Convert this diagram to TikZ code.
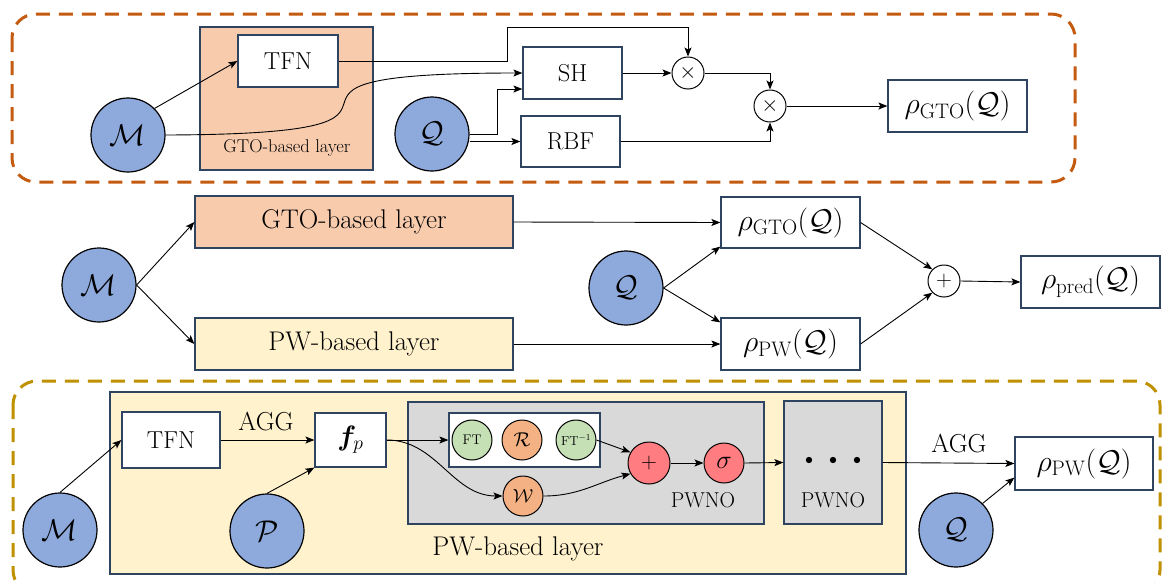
\RequirePackage{fix-cm}
\documentclass[tikz,border=0pt]{standalone}
\usepackage{bm}
\usetikzlibrary{arrows.meta,calc}
\definecolor{bordc}{HTML}{2F4460}
\definecolor{inblue}{HTML}{8EA9DB}
\definecolor{gtofill}{HTML}{F8CBAD}
\definecolor{pwfill}{HTML}{FFF2CC}
\definecolor{greyfill}{HTML}{D9D9D9}
\definecolor{greenc}{HTML}{C5E0B4}
\definecolor{orangec}{HTML}{F4B183}
\definecolor{redc}{HTML}{FF7C80}
\definecolor{topdash}{HTML}{C55A11}
\definecolor{botdash}{HTML}{BF9000}
\newcommand\myfs[1]{\fontsize{#1}{#1}\selectfont}
\tikzset{
  box/.style={draw=bordc, line width=1.2pt, fill=white, inner sep=0pt, font=\myfs{24.5}},
  panel/.style={draw=bordc, line width=1.2pt, inner sep=0pt},
  incirc/.style={circle, draw=black, line width=1.2pt, fill=inblue, inner sep=0pt, minimum size=74pt, font=\myfs{30}},
  opcirc/.style={circle, draw=black, line width=1pt, fill=white, inner sep=0pt, minimum size=32pt, font=\myfs{22}},
  smallcirc/.style={circle, draw=black, line width=1pt, inner sep=0pt, minimum size=40pt},
  arr/.style={-{Stealth[length=9pt,width=7pt,inset=2pt]}, line width=0.9pt},
  dashbox/.style={dash pattern=on 14pt off 9pt, line width=3pt, rounded corners=24pt},
  lbl/.style={font=\myfs{#1}},
}
\begin{document}
\begin{tikzpicture}[x=1pt,y=-1pt]
\useasboundingbox (0,0) rectangle (1165,582);

% ---------------- top panel ----------------
\draw[dashbox, draw=topdash] (12,14) rectangle (1075,182);
\node[panel, fill=gtofill, minimum width=173pt, minimum height=143pt] (gtoL) at (286.5,98.5) {};
\node[lbl=18.5] (gtoLtxt) at (287,148) {GTO-based layer};
\node[box, minimum width=100pt, minimum height=52pt] (tfn1) at (288,61) {TFN};
\node[box, minimum width=99pt, minimum height=52pt] (sh) at (572.5,73) {SH};
\node[box, minimum width=99pt, minimum height=51pt] (rbf) at (570.5,141.5) {RBF};
\node[incirc] (m1) at (128,135) {$\mathcal{M}$};
\node[incirc] (q1) at (432,134) {$\mathcal{Q}$};
\node[opcirc] (x1) at (688,73) {$\times$};
\node[opcirc] (x2) at (770,106) {$\times$};
\node[box, minimum width=139pt, minimum height=52pt, font=\myfs{30}] (rho1) at (957.5,106) {$\rho_{\mathrm{GTO}}(\mathcal{Q})$};

\coordinate (b1) at (507,61);
\coordinate (b2) at (507,27);
\coordinate (b3) at (497,134);
\draw[arr] (m1.45) -- (tfn1.west);
\draw[arr] (m1.east) .. controls (500,134) and (190,73) .. (sh.west);
\draw[arr] (tfn1.east) -- (b1) -- (b2) -| (x1.north);
\draw[arr] (q1.east) -- (b3) |- ([yshift=-16pt]sh.west);
\draw[arr] (rbf.west -| q1.east) -- (rbf.west);
\draw[arr] (sh.east) -- (x1.west);
\draw[arr] (x1.east) -| (x2.north);
\draw[arr] (rbf.east) -| (x2.south);
\draw[arr] (x2.east) -- (rho1.west);

% ---------------- middle panel ----------------
\node[incirc] (m2) at (99,285) {$\mathcal{M}$};
\node[box, fill=gtofill, minimum width=318pt, minimum height=52pt, font=\myfs{27}] (gto2) at (354,222) {GTO-based layer};
\node[box, fill=pwfill, minimum width=318pt, minimum height=52pt, font=\myfs{27}] (pw2) at (354,344) {PW-based layer};
\node[incirc] (q2) at (626,288) {$\mathcal{Q}$};
\node[box, minimum width=139pt, minimum height=51pt, font=\myfs{30}] (rho2) at (790.5,222.5) {$\rho_{\mathrm{GTO}}(\mathcal{Q})$};
\node[box, minimum width=139pt, minimum height=52pt, font=\myfs{30}] (rho3) at (790.5,344) {$\rho_{\mathrm{PW}}(\mathcal{Q})$};
\node[opcirc] (pl1) at (944,281) {$+$};
\node[box, minimum width=139pt, minimum height=52pt, font=\myfs{30}] (rhop) at (1090.5,282) {$\rho_{\mathrm{pred}}(\mathcal{Q})$};

\draw[arr] (m2.east) -- (gto2.west);
\draw[arr] (m2.east) -- (pw2.west);
\draw[arr] (gto2.east) -- (rho2.west);
\draw[arr] (pw2.east) -- (rho3.west);
\draw[arr] (q2.east) -- ([yshift=2pt]rho2.south west);
\draw[arr] (q2.east) -- ([yshift=-5pt]rho3.north west);
\draw[arr] (rho2.east) -- (pl1.135);
\draw[arr] (rho3.east) -- (pl1.225);
\draw[arr] (pl1.east) -- (rhop.west);

% ---------------- bottom panel ----------------
\draw[dashbox, draw=botdash] (13,381) rectangle (1160,594);
\node[panel, fill=pwfill, minimum width=796pt, minimum height=182pt] (pwL) at (508,483) {};
\node[lbl=27] (pwLtxt) at (518,549) {PW-based layer};
\node[box, minimum width=98pt, minimum height=56pt] (tfn3) at (171,440) {TFN};
\node[box, minimum width=71pt, minimum height=54pt, font=\myfs{28}] (fp) at (350.5,440) {$\bm{f}_{p}$};
\node[incirc] (m3) at (60,530) {$\mathcal{M}$};
\node[incirc] (p3) at (267,531) {$\mathcal{P}$};
\node[panel, fill=greyfill, minimum width=356pt, minimum height=122pt] (grey1) at (586,463) {};
\node[lbl=21.5] (pwno1) at (703,500) {PWNO};
\node[box, minimum width=151pt, minimum height=54pt] (grp) at (524.5,440) {};
\node[smallcirc, fill=greenc, font=\myfs{14}] (ft) at (472,440) {$\mathrm{FT}$};
\node[smallcirc, fill=orangec, font=\myfs{20}] (rr) at (522,440) {$\mathcal{R}$};
\node[smallcirc, fill=greenc, font=\myfs{13}] (fti) at (576,440) {$\mathrm{FT}^{-1}$};
\node[smallcirc, fill=orangec, font=\myfs{19}] (w) at (523,496) {$\mathcal{W}$};
\node[smallcirc, fill=redc, minimum size=42pt, font=\myfs{22}] (pl2) at (649,463) {$+$};
\node[smallcirc, fill=redc, font=\myfs{26}] (sg) at (724,463) {$\sigma$};
\node[panel, fill=greyfill, minimum width=98pt, minimum height=123pt] (grey2) at (833,462.5) {};
\node[font=\myfs{16}] (dots) at (833,461) {$\bullet$\hspace{16pt}$\bullet$\hspace{16pt}$\bullet$};
\node[lbl=21.5] (pwno2) at (833,500) {PWNO};
\node[box, minimum width=138pt, minimum height=53pt, font=\myfs{30}] (rho4) at (1084,463.5) {$\rho_{\mathrm{PW}}(\mathcal{Q})$};
\node[incirc] (q3) at (956,530) {$\mathcal{Q}$};
\node[lbl=26] (agg1) at (266,422) {AGG};
\node[lbl=26] (agg2) at (959,444) {AGG};

\draw[arr] (m3.north) -- (tfn3.west);
\draw[arr] (tfn3.east) -- (fp.west);
\draw[arr] (p3.north) -- (fp.south west);
\draw[arr] (fp.east) -- (grp.west);
\draw[arr] (fp.east) to[out=0,in=180] (w.west);
\draw[arr] (fti.east) -- (pl2.150);
\draw[arr] (w.east) to[out=0,in=195] (pl2.210);
\draw[arr] (pl2.east) -- (sg.west);
\draw[arr] (sg.east) -- (grey2.west);
\draw[arr] (grey2.east) -- (rho4.west);
\draw[arr] (q3.45) -- ([yshift=13pt]rho4.south west);
\end{tikzpicture}
\end{document}
